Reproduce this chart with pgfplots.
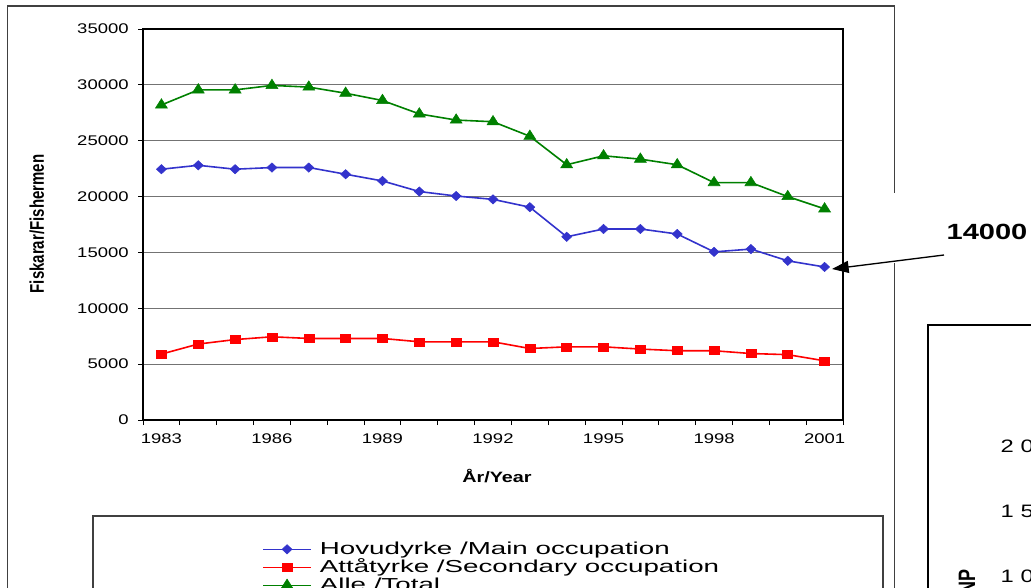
\documentclass[border=0pt]{standalone}
\usepackage{fontspec}
\setmainfont[FakeStretch=1.32]{Liberation Sans}
\newfontfamily\rotfont{Liberation Sans}
\newfontfamily\legfont[FakeStretch=1.6]{Liberation Sans}
\usepackage{graphicx}
\usepackage{pgfplots}
\pgfplotsset{compat=1.18}
\usetikzlibrary{arrows.meta}

\definecolor{mainblue}{HTML}{3333CC}
\definecolor{secred}{HTML}{FF0000}
\definecolor{totgreen}{HTML}{008000}
\definecolor{framegray}{HTML}{404040}

% fishermen per year: main occupation, secondary occupation, total
\pgfplotstableread{
year main second total
1983 22450 5900 28200
1984 22800 6800 29550
1985 22450 7200 29550
1986 22600 7450 29950
1987 22600 7300 29800
1988 22000 7300 29250
1989 21400 7300 28600
1990 20450 7000 27400
1991 20050 7000 26850
1992 19750 7000 26700
1993 19050 6400 25400
1994 16400 6550 22850
1995 17100 6550 23650
1996 17100 6350 23350
1997 16650 6200 22850
1998 15050 6200 21250
1999 15300 5950 21250
2000 14250 5850 20000
2001 13700 5300 18900
}\fisk

\begin{document}
\begin{tikzpicture}[x=0.75pt,y=-0.75pt]
\useasboundingbox (0,0) rectangle (1031,588);

% frames
\draw[framegray, line width=1.1pt] (7.5,640) -- (7.5,6) -- (894.5,6) -- (894.5,640);
\draw[framegray, line width=0.8pt] (93,640) -- (93,516) -- (883,516) -- (883,640);
\draw[black, line width=0.8pt] (928,640) -- (928,325) -- (1100,325);

\begin{axis}[
  at={(107.25pt,-315pt)}, anchor=south west,
  scale only axis, width=525pt, height=293.25pt,
  xmin=1982.5, xmax=2001.5, ymin=0, ymax=35000,
  axis line style={line width=1.1pt},
  ytick={0,5000,...,35000},
  ymajorgrids, grid style={black!55, line width=0.9pt},
  xtick={1982.5,1983.5,...,2001.5}, xticklabels={},
  extra x ticks={1983,1986,1989,1992,1995,1998,2001},
  extra x tick labels={1983,1986,1989,1992,1995,1998,2001},
  extra x tick style={major tick length=0pt, grid=none},
  xtick pos=left, ytick pos=left,
  tick align=outside, major tick length=3.75pt,
  tick style={black, line width=0.6pt},
  ticklabel style={font=\fontsize{10.5}{12}\selectfont},
  xticklabel style={yshift=-7pt},
  /pgf/number format/assume math mode=true,
  yticklabel style={/pgf/number format/1000 sep={}, xshift=-3.5pt},
  scaled y ticks=false,
  legend style={at={(0.17,-0.307)}, anchor=north west, draw=none, fill=none,
    inner sep=0pt, row sep=0pt,
    font=\legfont\fontsize{13}{14}\selectfont,
    nodes={inner sep=0pt, text height=11pt, text depth=2.5pt},
    /tikz/every odd column/.append style={column sep=6pt}},
  legend cell align=left,
  legend image code/.code={\draw[mark repeat=2,mark phase=2] plot coordinates {(0pt,0pt)(18pt,0pt)(36pt,0pt)};},
]
\addplot[mainblue, line width=1.2pt, mark=square*, mark size=2.47pt,
  mark options={solid, line width=0.4pt, xscale=1.075, rotate=45}]
  table[x=year, y=main] {\fisk};
\addlegendentry{Hovudyrke /Main occupation}
\addplot[secred, line width=1.2pt, mark=square*, mark size=3pt,
  mark options={solid, line width=0.4pt, xscale=1.25}]
  table[x=year, y=second] {\fisk};
\addlegendentry{Attåtyrke /Secondary occupation}
\addplot[totgreen, line width=1.2pt, mark=triangle*, mark size=4.7pt,
  mark options={solid, line width=0.4pt, xscale=1.1}]
  table[x=year, y=total] {\fisk};
\addlegendentry{Alle /Total}
\end{axis}

% axis titles
\node[font=\bfseries\fontsize{11.25}{13}\selectfont] at (497,476) {År/Year};
\node at (37,224) {\scalebox{1.32}[1]{\rotatebox{90}{\rotfont\bfseries\fontsize{11.25}{13}\selectfont Fiskarar/Fishermen}}};

% callout
\fill[white] (870,193) rectangle (1031,263);
\node[font=\bfseries\fontsize{16.5}{18}\selectfont] at (987,232) {14000};
\draw[line width=1pt, -{Triangle[length=12.5pt,width=9pt]}] (944,255) -- (832,269);

% part of the neighbouring chart
\node[anchor=west, font=\fontsize{13.5}{15}\selectfont] at (996,446) {2 000};
\node[anchor=west, font=\fontsize{13.5}{15}\selectfont] at (996,511) {1 500};
\node[anchor=west, font=\fontsize{13.5}{15}\selectfont] at (996,576) {1 000};
\node[inner sep=0pt, anchor=north] at (967,569) {\scalebox{1.32}[1]{\rotatebox{90}{\rotfont\bfseries\fontsize{13.5}{15}\selectfont BNP}}};
\end{tikzpicture}
\end{document}
